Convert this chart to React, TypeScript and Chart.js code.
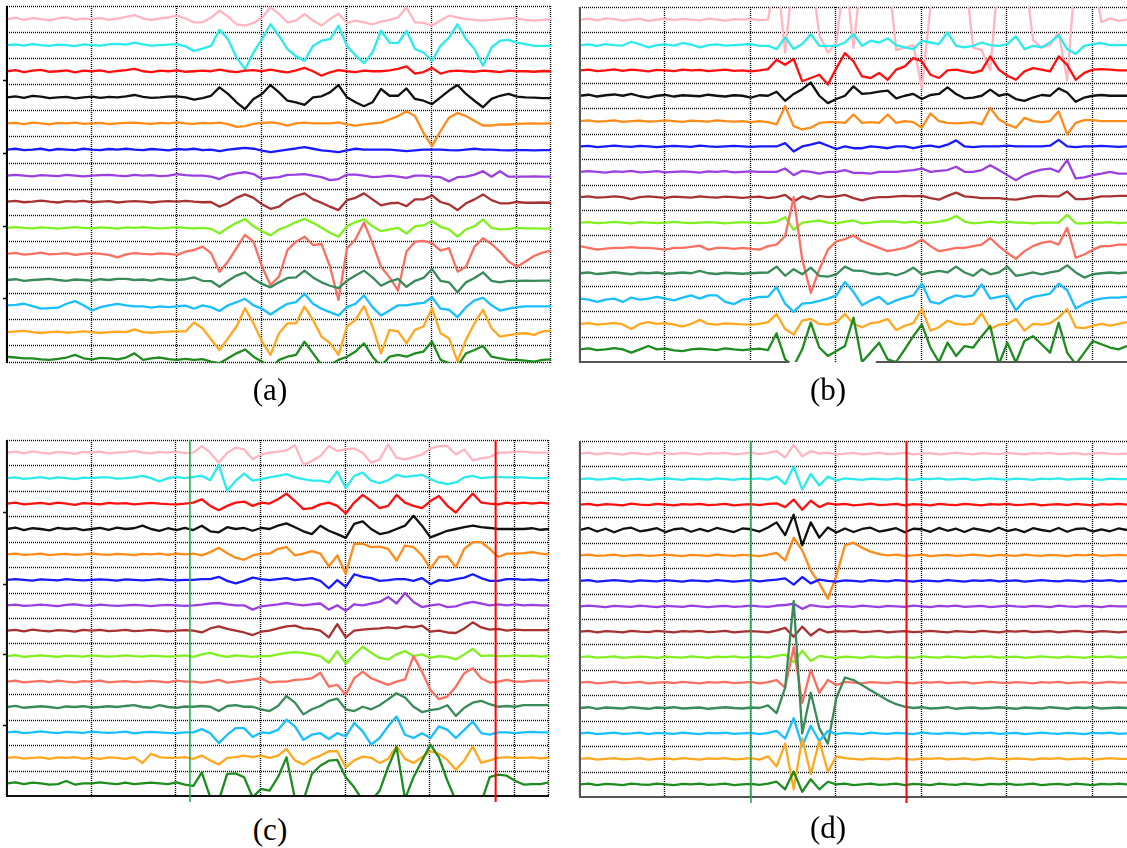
import { useEffect, useRef } from "react";
import { Chart, registerables } from "chart.js";

Chart.register(...registerables);

// Sample positions along the time axis (shared by every panel).
const SAMPLE_X = [
  0, 10, 20, 30, 40, 50, 60, 70, 80, 90,
  100, 110, 120, 130, 140, 150, 160, 170, 180, 190,
  200, 210, 220, 230, 240, 250, 260, 270, 280, 290,
  300, 310, 320, 330, 340, 350, 360, 370, 380, 390,
  400, 410, 420, 430, 440, 450, 460, 470, 480, 490,
  500, 510, 520, 530, 540, 550, 560, 570, 580, 590,
  600, 610, 620, 630, 640,
];

// Horizontal separators between the 14 channel rows (units: 10 per row).
const ROW_LINES = [0, -10, -20, -30, -40, -50, -60, -70, -80, -90, -100, -110, -120, -130];
// Resting level of each channel, centred in its row.
const CHANNEL_BASE = [-5, -15, -25, -35, -45, -55, -65, -75, -85, -95, -105, -115, -125, -135];
const X_GRID_CLOSED = [0, 100, 200, 300, 400, 500, 600, 640];
const X_GRID_OPEN = [0, 100, 200, 300, 400, 500, 600];
const AXIS_TICKS = [-28.4, -56.5, -84.3, -112];

const CHANNEL_COLORS = [
  "#FFB6C1", // pink
  "#2EEBEB", // cyan
  "#FF1010", // red
  "#111111", // black
  "#FF8C1A", // orange
  "#1A1AFF", // blue
  "#9B40E0", // purple
  "#A83232", // brown
  "#80F020", // lime
  "#FA7060", // salmon
  "#3A8A5A", // sea green
  "#19BFFF", // sky blue
  "#FFA820", // light orange
  "#1E8C1E", // green
];

// ---------------- panel (a) ----------------
const A_PINK = [
  0, 0.5, -0.3, 0.4, 0, -0.5, 0.3, 0.6, -0.2, 0.2,
  0, 0.4, -0.3, 0.2, 0.8, 1.5, 0.2, -0.3, 0.3, 0.6,
  1.3, 0.2, -1.3, -1.2, 0.5, 3.2, 1, -2, -2.5, -1.5,
  0.5, 4.5, 2, -1.3, -0.6, 2, -0.6, -2.5, 0, 2,
  -1.5, -0.6, -1.3, -2, -1, -0.3, 0.6, 4.5, -1.3, -1.5,
  -2.5, -0.6, 1.3, 0.6, 0, -0.3, -0.6, -0.3, 0, 0.3,
  0.3, -0.3, -0.6, -0.3, 0,
];
const A_CYAN = [
  0, 0.3, -0.2, 0.4, 0, -0.3, 0.2, 0, -0.4, 0.3,
  0, -0.2, 0.3, 0.5, 0.2, 1, 0.3, -0.2, 0, 0.2,
  0.4, -0.5, -2.2, -1.3, -0.3, 5.9, 2.3, -4.7, -9.2, -2.8,
  2.3, 8, 3.6, -1.5, -4.3, -6, -0.3, 1.7, 2.3, 7.4,
  -0.3, -4, -6.9, -2.8, 5.5, 1, 0.8, 5.5, -1.5, -2.8,
  -6, -0.3, 2.9, 8, 2.3, -1.5, -7.9, -0.9, 1.7, 2,
  1, 0.4, -0.3, -0.3, -0.3,
];
const A_RED = [
  0, 0.4, -0.3, 0.2, 0.5, -0.2, 0, 0.3, -0.4, 0.2,
  0, 0.3, -0.3, 0.1, 0.4, 0.9, 0, -0.3, 0.2, 0,
  0.3, -0.2, 0, 0.2, 0, 0.6, 0, -0.3, 0.2, 0.4,
  0, 0.6, 0, -0.4, 0.3, 1.3, 0, -1.7, -0.4, 0.4,
  0, -0.3, 0.2, 0, 0, 0.3, 0.9, 1.9, -0.9, -0.3,
  1.3, -0.9, 0, 0.2, 0, -0.2, 0.2, 0, -0.3, 0.2,
  0, 0, -0.2, 0.1, 0,
];
const A_BLACK = [
  0, 0.4, -0.2, 0.6, 0.3, -0.3, 0, 0.2, -0.4, 0,
  0.3, -0.2, 0.2, 0, 0.4, 0.9, 0.2, -0.2, 0, 0.3,
  0.4, 0, -0.9, -0.3, 0.6, 3.8, 1.3, -1.9, -4.5, -0.6,
  1.3, 4.7, 1.9, -1.3, -1.9, -2.9, 0, 0.4, 1.9, 4.7,
  0, -1.9, -3.4, -1.9, 3.2, 0.6, 0.6, 3.4, -0.6, -1.3,
  -2.6, 0, 2.6, 4.7, 1.3, -1.3, -3.8, -0.6, 0.6, 1.3,
  0.3, 0, -0.1, -0.3, -0.3,
];
const A_ORANGE = [
  0, 0.2, -0.3, 0.3, 0, -0.4, 0.2, 0, 0.3, -0.2,
  0, 0.2, -0.3, 0, 0.2, 0.3, 0, -0.2, 0.2, 0,
  0.4, 0, -0.2, 0.2, 0, 0.3, -0.3, -1.3, -1, -0.2,
  0.2, 0.4, 0, -0.8, 0, 0.3, 0, 0, 0, 0.4,
  -0.4, -0.8, -0.4, 0, 0.3, 1.5, 2.8, 4.7, 2.8, -3.6,
  -8.7, -2.9, 2.2, 4, 2.8, 0.9, -0.8, -0.8, -0.4, -0.4,
  -0.2, -0.1, 0, -0.1, 0,
];
const A_BLUE = [
  0, 0.3, -0.2, 0, 0.3, -0.3, 0.2, 0, -0.2, 0.3,
  0, -0.2, 0.2, 0, 0.3, 0, -0.2, 0.2, 0, -0.3,
  0.2, 0, 0.3, -0.2, 0, -0.6, 0, 0.3, 0.6, 0.3,
  -0.4, -1, -0.5, 0, 0.4, 0.9, 0.3, -0.3, -0.6, -1,
  -0.3, 0.3, 0, 0, 0, 0, -0.3, -0.6, -0.3, 0,
  0, 0, -0.2, -0.3, 0, 0.3, 0, 0, -0.2, -0.3,
  -0.2, -0.2, -0.3, -0.2, -0.2,
];
const A_PURPLE = [
  0, 0.3, 0, -0.3, 0.2, 0, -0.2, 0.3, 0, -0.3,
  0, 0.2, 0.3, 0, -0.2, 0.3, 0, 0.2, -0.2, 0,
  0.6, 0.2, 0, 0, -0.4, -1.3, 0.2, 0.9, 1.3, 0.6,
  -1.3, -0.9, -0.6, 0.3, 0.4, 0.6, 0, -0.6, -1.7, -1.3,
  0.4, 0.4, 0, -0.6, -0.4, 0, -0.4, -0.9, 0, 0,
  -0.4, -0.6, -2.2, -0.6, -0.4, 0.4, 1.7, -0.4, 1.7, -0.4,
  -0.4, -0.4, -0.3, -0.4, -0.4,
];
const A_BROWN = [
  0, 0.3, -0.2, 0, 0.4, 0, -0.3, 0.2, 0, 0.3,
  -0.2, 0, 0.2, -0.3, 0, 0.2, 0, -0.3, 0, 0.2,
  0, 0.3, 0, -0.2, -0.1, -1.9, -0.6, 1.5, 2.8, 1.5,
  -1, -2.7, -1.9, 0.6, 2.2, 3.2, 0.9, -0.4, -1.9, -3.2,
  0.6, 1.5, 3.2, 0.9, -1.4, -0.6, -0.4, -1.7, 0.9, 0.9,
  2.4, -0.1, -1, -3.2, -0.6, 0.9, 2.8, 0.6, -0.6, -0.6,
  -0.1, -0.4, -0.4, -0.3, -0.4,
];
const A_LIME = [
  0, 0.3, 0, -0.2, 0.2, 0, -0.3, 0, 0.3, 0,
  -0.2, 0.2, 0, -0.3, 0.2, 0, 0.3, 0, -0.2, 0,
  0.3, 0, -0.2, 0, -0.4, -2.2, 0, 1.9, 3.4, 0.6,
  -1.3, -2.9, -0.6, 0.6, 2.2, 3.4, 1.9, 0, -1.9, -3.4,
  0.6, 2.2, 3.2, 0.6, -1.3, -0.6, 0, -2.2, 0.6, 0.9,
  2.6, 0.4, -0.6, -3.4, -0.6, 0.6, 3.2, 0, -0.6, -0.4,
  0, -0.2, -0.2, -0.3, -0.2,
];
const A_SALMON = [
  0, 0.4, -0.3, 0, 0.5, -0.2, 0, 0.3, -0.4, 0,
  0.3, 0, -0.4, -1.3, -0.2, 0.3, 0, -0.2, 0.2, 0,
  -0.4, 0.9, 1.5, 2.8, 0.3, -6.8, -2.9, 2.2, 7.3, 4.7,
  -4.9, -11.9, -8.7, 1.5, 4.7, 6.6, 3.4, 3.8, -4.9, -17.6,
  2.2, 5.6, 12, 4.1, -4.9, -9, -14, 0.9, 4.7, 5,
  4.1, 1.3, 2.2, -6.8, -4.9, 2.8, 6, 3.8, 0.9, -2.9,
  -4.9, -2.9, -0.8, 0.5, 1.3,
];
const A_SEAGREEN = [
  0, 0.3, -0.3, 0, 0.2, 0.4, 0, -0.3, 0.2, 0,
  -0.2, 0.3, 0, 0.4, 0.4, 0, 0.2, -0.2, 0.4, 0,
  0, 0.3, 1, -0.3, -0.4, -2.6, -0.3, 1.7, 2.9, 0.4,
  -1.5, -2.8, -0.9, 0.8, 1, 3.6, 1, -0.9, -2.2, -3.1,
  -0.3, 1.7, 3.6, 1, -2.2, -0.6, 0.4, -2.6, -0.3, 0.8,
  4.2, -0.3, -0.9, -4.7, -0.9, 0.8, 2.9, -0.3, -0.9, -0.3,
  -0.3, -0.2, -0.3, -0.2, -0.2,
];
const A_SKY = [
  0.3, 0.5, 0.9, 0, -1, -0.8, -0.6, 0.9, 1.9, 0.3,
  -1.7, -0.4, 0.3, 0.9, 0.3, -0.1, -0.1, -0.6, -0.1, -0.4,
  -0.1, 0.2, -1, 0.3, -0.4, -1.9, 0.3, 1.5, 2.8, 0.3,
  -1, -3.2, -1, 0.9, 1.5, 4.7, 0.9, -1, -2.3, -3.6,
  -0.4, 0.9, 4.1, -0.4, -3.6, -1.7, 0.3, 0.3, 0.9, 1.2,
  3.4, -1, -1.4, -4.2, -0.4, 2.2, 3.2, 0.3, -1.7, -1,
  -0.4, -0.1, -0.1, -0.1, -0.1,
];
const A_ORANGE2 = [
  0, 0.3, 0.5, 0, -0.3, 0, 0.2, -0.2, 0, 0.3,
  0, -0.3, 0, 0.2, 0, 1.1, 0, -0.2, 0, 0.2,
  0.3, 0.3, 3.7, 1.5, -2.7, -6.8, -2.3, 2.2, 9.2, 3.4,
  -3.6, -8.7, -0.4, 3.4, 3.4, 9.8, 4.7, -1.7, -4.2, -8.7,
  2.2, 4.7, 10, 2.2, -8.1, 0.9, 0.3, -4.2, 0.9, 2.2,
  9.2, -0.4, -2.3, -11.2, -2.9, 3.4, 8.6, 1.5, -1.7, -1.1,
  -0.6, -0.4, -1, 0.3, 0.6,
];
const A_GREEN = [
  0.6, 0.3, 0, 0, -0.4, -0.6, -0.2, 0.3, 1.3, 0,
  -0.4, 0.2, 0, -0.4, 0.3, 1.9, -0.6, 0, 0.3, -0.3,
  -0.6, -0.2, -0.6, -0.3, -1.3, -1.9, 0, 1.9, 3.4, 0.6,
  -1.3, -4, -0.6, 0.6, 1.3, 6.4, 1.9, -2.5, -2.5, -0.6,
  0.6, 2.6, 5.7, 0.6, -3, 0.6, 1.3, 0.6, 1.9, 2.6,
  6.4, -0.6, -1.9, -3, 1.9, 3.2, 4.7, 0.6, 0, -0.6,
  -0.6, -0.9, -1.3, -0.6, -0.4,
];

// ---------------- panel (b) ----------------
const B_PINK = [
  0, 0.4, -0.3, 0.5, 0.2, -0.4, 0, 0.3, -0.5, 0,
  0.4, -0.2, 0.3, 0, -0.3, 0.4, 0, -0.4, 0.2, 0,
  0.3, -0.2, 0, 20, -13, 20, 18, 20, -6, -13,
  -9, 20, -11, 20, 20, 20, 20, -12, -11, -10,
  -27, 5, 20, 20, 20, 20, -11, -12, -20, 20,
  20, 20, 20, -8, -11, -10, -5, -24, 20, 20,
  20, -1, 0.5, -0.5, 0,
];
const B_CYAN = [
  0, 0.3, -0.3, 0.4, 0, -0.2, 1.3, 0.3, -0.9, 0,
  0.3, -0.2, 0.8, 0.2, -0.9, 0, 0.3, -0.2, 0, 0.2,
  0.4, -0.3, -0.3, -1.6, 3, -1.6, 0.4, 4.3, -0.3, -0.3,
  -0.3, 1, 4.3, -0.3, 1.7, 1, 2.6, 0, -0.9, -1.6,
  1.7, 1, 0.4, 5, -0.3, -0.9, -0.3, 1, 0, -0.3,
  0.4, 3.4, -1.6, -0.3, -0.9, 1, 3.9, -1.6, -3.5, -0.3,
  0.4, 0.8, 0, 0.1, 0,
];
const B_RED = [
  0, 0.3, -0.3, 0, 0.4, -0.2, 0.3, 0, -0.4, 0.2,
  0, -0.3, 0.3, 0, 0.2, -0.3, 0, 0.3, -0.2, 0,
  -0.4, 0, 0.5, 4.2, 2.2, 4.5, -4.3, -3, -1.7, -5.6,
  0.9, 6.8, 3.5, -2.4, -3, -1, -3.7, 0.3, 1.6, 4.9,
  3.5, -1.7, -3, 0, 0.3, -0.4, -1, 0, 5.5, 0.3,
  -2.1, -3.7, -0.4, 0.9, 0.3, -0.4, 5.5, 2.2, -3.7, -1,
  0.3, 0.5, 0.3, 0, 0,
];
const B_BLACK = [
  0, 0.4, -0.3, 0.2, 0.5, 0, 0.7, -0.2, -0.7, 0,
  0.3, -0.3, 0.2, 0, -0.2, 0.4, 0, -0.3, 0.2, 0,
  -0.7, 0.2, 0, 1.6, -2, 0.7, 2.6, 5.2, 0, -2.9,
  -1.3, 0, 3.7, 0.7, 1, 1.6, 2, -1, 0, 0.7,
  -1.3, 0.3, 0.7, 3.3, 0.7, -1, -0.7, 0, 2.4, 0,
  0.7, -1.3, -2, -0.7, 0.3, 0, 2.9, 1.3, -2.4, -0.7,
  0, 0.3, 0, 0, 0,
];
const B_ORANGE = [
  0, 0.3, -0.2, 0, 0.3, -0.3, 0, 0.2, -0.2, 0,
  0.3, 0, -0.3, 0.2, 0, -0.2, 0.3, 0, -0.2, 0,
  -0.4, 0, -0.4, -1.3, 5.9, -2, -3.3, -2.6, -0.7, -0.4,
  -0.4, -0.7, 2.6, -0.7, -0.4, -0.7, 2.6, -0.7, 0, -0.4,
  -2.6, 3, 0, -0.7, -0.9, -0.7, -0.4, -1.3, 5.2, 0.7,
  -1.3, -2.6, 1.3, 0, -0.4, 0, 3.9, -5.2, -0.7, 0.4,
  0.4, 0, 0, 0, 0,
];
const B_BLUE = [
  0, 0.2, -0.3, 0, 0.3, 0, -0.2, 0.2, 0, -0.3,
  0, 0.2, 0, -0.2, 0.3, 0, -0.2, 0, 0.2, 0,
  -0.2, 0, 0, 0, 1.3, -2, 0, 0.7, 1.6, 0.3,
  -1, 0, -0.7, -0.7, 0, -0.3, -0.7, 0, 0, -0.7,
  0, 0.3, -0.3, 0.7, 2.4, 0, -0.3, 0, 0, 0,
  0.3, 0, 0, 0, 0, 0.3, 2.6, 0, -0.3, 0,
  0, 0.2, 0, -0.2, 0,
];
const B_PURPLE = [
  0, 0.3, 0, -0.3, 0.2, 0, 0.4, -0.2, 0, 0.3,
  -0.2, 0, 0.2, 0, -0.3, 0.2, 0, 0.3, -0.2, 0,
  0.2, 0, 0, 0, 1.3, -1.3, 0.4, 0, -0.7, 0,
  0, 0.7, -0.4, -0.4, -0.7, 0, 0, 0, 0.4, 0.7,
  1.3, 0, 0.4, 0.7, 2, 0, 0, 0.7, 2.6, 0.7,
  -1.3, -3.3, -1.3, 0, 0.9, 1.3, 0, 4.6, -2.6, -2.2,
  -1.3, -0.7, 0, -0.7, -0.7,
];
const B_BROWN = [
  0, 0.3, -0.2, 0, 0.3, 0, -0.8, 0, 0.3, 0,
  -0.3, 0.2, 0, -0.2, 0.3, 0, -0.2, 0.2, 0, -0.3,
  0, 0.2, -0.4, 0, 0.9, -1.7, 0.3, -0.8, 0.5, 0,
  0.3, 0.9, -0.4, -1.3, -0.4, 0, 0, 0.3, 0.5, 0.3,
  0.5, -0.4, -1, 0.5, 1.8, 0.3, 0, -0.4, -0.4, -0.4,
  -0.8, -1, -0.4, 0.3, 0.5, 0.3, 0.3, 2.2, -0.8, -0.8,
  -0.4, 0.3, 0.3, 0.5, 0.5,
];
const B_LIME = [
  0, 0.2, -0.2, 0, 0.3, 0, -0.3, 0.2, 0, -0.2,
  0, 0.3, 0, -0.2, 0, 0.2, 0, -0.3, 0, 0.2,
  0, -0.2, 0, 0.4, 2.1, -2.9, 0, 0.4, 0.8, 0,
  -0.3, 0.4, 0.8, -0.3, 0, 0.4, 0.4, 0.4, 0, 0.4,
  -0.3, 0, 0.4, 1, 2.6, 0.4, -0.3, 0, 0.4, 0,
  0.4, 0, 0, -0.3, 0, 0, 0, 3, -0.3, -0.3,
  0, 0, 0.2, -0.2, 0,
];
const B_SALMON = [
  0.7, 0, -0.7, -0.3, 0, 0, 0.3, 0, 0, -0.3,
  -0.7, 0, 0, 0.4, 0.9, -0.7, 0, 0, -0.4, 0,
  -0.4, -0.7, 0.7, 1.3, 4.6, 20, -4.6, -17.7, -8.5, -0.7,
  2.6, 3.5, 4.9, 2.6, 1.3, 0, -1.3, -0.7, 0, 1.3,
  3.3, 0.7, -1.3, -0.7, 0, 0, 0.7, 1.3, 3.9, 0.7,
  -2, -4.3, -1.3, 0.7, 2, 2.6, 1.3, 7.9, -3.9, -2.6,
  -0.7, 0.7, 0.7, 1.3, 1.3,
];
const B_SEAGREEN = [
  0, 0.3, -0.3, 0, 0.4, 0, -0.4, 0.2, 0, 0.3,
  -0.2, 0, 0.3, 0, 0.9, 0, -0.3, 0.2, 0, -0.2,
  0, 0.2, 0.3, 2.6, -1, 1.6, -0.4, 2.2, -1, -1.3,
  -0.4, 2.6, 1, 0.9, 0, -0.4, 0, -0.8, 0.3, 2.2,
  -0.4, 0.3, 0.9, 0.3, 2.6, 0.3, -1, 1.6, -0.4, 0.3,
  2.6, -1, -0.4, 0.3, -0.4, 0.3, 0.9, 3.1, 0.3, -1.7,
  -0.4, 0, 0.3, 0, 0.3,
];
const B_SKY = [
  0, -0.4, -1.3, -0.4, 0, -1.3, 0.4, -0.4, 0, 0.7,
  0, -0.7, 0.4, 1.3, 0, 1.3, 1.3, -1.3, -2.2, -0.4,
  0, 0.7, 0.7, 4.6, -2, -5.2, -2, -1.7, -0.9, 0,
  1.3, 6.6, 2.6, -2.6, -0.7, 0.7, -2.2, -0.7, 0.4, 1.3,
  5.9, -1.3, -2, 0, 1.3, 0.7, 1.3, 5.6, 0, 0.7,
  1.3, -4.6, -0.7, 0.7, 1.3, 2, 5.9, 3.3, -3.9, -2,
  -0.7, 0, 0.4, 0.4, 0.7,
];
const B_ORANGE2 = [
  0, 0.3, -0.3, 0, 0.4, -0.2, -2, 0, 0.7, 0,
  0.3, -0.3, -1, 0, 1.6, 0, -0.3, 0.2, 0, -0.2,
  -0.3, 0, 0.7, 3.9, -2, -4.2, 1.3, 2, 0, -0.3,
  0.7, 3.9, 0, -1.3, 0.3, 0.7, 2, -2.4, -0.7, 0.3,
  5.9, -2.6, -1.3, 1.3, 0, -0.3, 0, 4.2, -2, -0.3,
  0, 2, -2.6, 0, -0.3, 0.3, 2.6, 5.9, -1.3, -1.6,
  -0.7, 0, -0.7, 0, 0.7,
];
const B_GREEN = [
  0, 0.4, -0.3, 0, 0.5, 0, -1.3, 0, 1.3, 0,
  0.3, -0.4, -0.7, 0, 0.3, 0, -0.3, 0.4, 0, -0.3,
  0, 0.3, -0.3, 6.3, -4, -6.6, 0, 10.5, 0.7, -2.6,
  -0.7, 1.3, 12.5, -5, -1.3, 2.6, -4, -5, 0, 5.2,
  9.8, 0.7, -5, 2.6, -2.6, 1.3, 0.7, 5.2, 9.2, -5.9,
  2.6, -5.2, 3.3, 5.2, 2, -1.3, 10.5, -1.3, -5.9, -1.3,
  3.3, 2, 0.7, 0, 1.3,
];

// ---------------- panel (c) ----------------
const C_PINK = [
  0, 0.4, -0.3, 0.5, 0, -0.4, 0.3, 0, -0.5, 0.3,
  0, 0.4, -0.3, 0, 0.2, 0.7, 0, -0.3, 0.3, 0,
  0.4, -0.2, 0, 2.6, 0, -3.9, 0, 2, 1.3, -2.6,
  -0.7, 0, 0.4, 0.9, 3, -4.7, -3.3, -1.3, 2.6, 0.7,
  1.3, 1.7, 0, -3.9, -2.6, 3.3, -2, -2.6, -1.7, -0.7,
  1.7, 2.6, 2.6, -0.7, 1.3, -3, -2.2, -1.7, 0, 0,
  0.4, 0.4, 0, 0, 0,
];
const C_CYAN = [
  0, 0.3, -0.3, 0, 0.4, -0.2, 0.3, 0, -0.4, 0.2,
  0, 0.3, 0.3, -0.2, 0, 0.3, 0.9, 0, -1.3, 0,
  0.5, 0, 0.5, 0.9, -0.8, 5.2, -5, -1, 1.8, -1,
  -0.4, 0.3, 0.9, 1.6, 0.3, -0.4, -1, -1, -1.7, 2.6,
  -3.9, 0.9, 2.2, -1, -2, -0.8, 1.3, 0.5, 0.9, 1.3,
  -0.4, -1.7, -2.4, -1.7, 0.3, 0.9, 0, 0.3, 0.5, 0.3,
  0.3, 0.3, 0, 0, 0,
];
const C_RED = [
  0, 0.4, -0.3, 0, 0.3, -0.2, 0.4, 0, -0.5, 0.2,
  0, -0.3, 0.3, 0, 0.2, -0.3, 0, 0.3, 0, -0.2,
  -0.3, 0, 0.4, 1.7, -0.9, -2.6, -0.9, 0.4, 0.8, -0.9,
  0.4, 0, 1.7, 3.9, 1, -2.2, -1.8, -0.3, 0.4, -0.9,
  -3.9, 0.4, 3.4, 1, -1.8, -0.9, 3.4, 0.4, -0.9, -1.8,
  1, 3, -0.9, -3.5, 0.4, 3.9, 0.4, 0, -0.3, 0.4,
  0, 0.4, 0, 0.4, 0,
];
const C_BLACK = [
  0, 0.5, -0.4, 0.3, 0, -0.5, 0.4, 0, 0.3, -0.4,
  0, 0.4, -0.3, 0.5, 0, 0.3, 1.3, 0, -0.7, 0.3,
  -0.4, 0.4, -0.4, 1.3, -0.9, -1.3, 0.7, 0, 0.4, -0.7,
  0.4, 0, 1.3, 2.2, 0.7, -0.9, -2, 1.3, -0.7, -2,
  -3.5, 2, 3, 0, -2, -1.3, 0, 1.3, 5.2, 1.3,
  -3.3, -2, -0.7, 0, 0.7, 1.3, 0.7, 0.4, 0, 0,
  0, 0, 0.3, -0.3, 0,
];
const C_ORANGE = [
  0, 0.3, -0.2, 0, 0.3, -0.3, 0, 0.2, -0.2, 0,
  0.3, 0, -0.2, 0.2, 0, -0.3, 0.2, 0, 0.3, -0.2,
  0.3, 0, 0.3, -0.4, 0.9, 2.6, 0.5, -1.3, -2.1, -0.4,
  0.3, 0.3, 2.2, 2.9, -0.4, 0.3, 1.3, 0.3, -4.7, -0.4,
  -7.6, 4.2, 4.2, 2.9, 3.1, 2.2, -2.4, 3.5, 2.9, -0.4,
  -5.6, -1, -0.8, -5, 2.2, 4.8, 4.8, 2.2, -1, 0.3,
  0.3, 0.5, 0.9, 0.3, 0,
];
const C_BLUE = [
  0, 0.3, 0, -0.3, 0.2, 0, -0.2, 0.3, 0, -0.2,
  0, 0.2, 0, -0.3, 0.2, 0, -0.2, 0, 0.3, 0,
  -0.2, 0, 0, 0.3, 0.3, 1.2, -0.4, -1.4, -0.4, 0.9,
  0.3, -0.1, 0.3, 0.7, -0.1, 0.3, 0.7, -0.4, -3.3, -0.1,
  -2.8, 2.2, 1.2, 0.7, -0.4, -0.1, 0.3, 0.3, -0.4, 0.7,
  -1.7, -0.1, -0.4, 0.3, 0.9, 2.2, 0.7, -0.4, -0.4, 0.3,
  0.3, 0, 0.2, -0.2, 0,
];
const C_PURPLE = [
  0, 0.3, -0.2, 0, 0.3, 0, -0.3, 0.2, 0.4, 0,
  -0.2, 0.3, 0, -0.2, 0, 0.2, 0, -0.3, 0, 0.2,
  0, -0.2, 0, 0.3, 0.7, 0.9, 0.4, 0, 0, -1.7,
  -0.4, 0, 0.4, 0.9, 0.4, 0, 0.4, 0.7, -1.7, 0,
  -2.2, 0.4, 0, 0.7, 1.3, 3.3, 0.7, 4.8, 1.3, -0.7,
  0, 0.4, -0.7, -0.4, 0.7, 1.3, 0.7, 0, 0.4, 0,
  0.4, 0, 0.2, 0, 0,
];
const C_BROWN = [
  0, 0.3, -0.3, 0.4, 0, -0.3, 0.2, 0, -0.4, 0.3,
  0, 0.3, -0.2, 0, 0.3, -0.2, 0, 0.3, 0, -0.3,
  0, 0.2, 0, -0.7, 0.9, 1.7, 0.7, 0, -0.7, -1.7,
  -0.4, 0, 0.9, 1.7, 2, 0.9, 0.7, 0, -2.6, 2.6,
  -2.6, 0, 0.4, 0.7, 0.9, 1.3, 0.9, 1.7, 1.3, 2,
  -0.4, 0, -0.7, -0.9, 0.9, 3.3, 1.3, 0.4, 0.7, 0,
  0.4, 0.2, 0.2, 0.2, 0.2,
];
const C_LIME = [
  0, 0.4, -0.3, 0, 0.3, 0, -0.3, 0.2, 0, -0.2,
  0.3, 0, -0.2, 0, 0.3, 0, -0.2, 0.2, 0, -0.2,
  0, 0.3, -0.3, 0.7, 1.3, 0.3, -0.3, 0.3, 0, -0.3,
  0, 0, 0.7, 1.3, 1.6, 1.3, 0.7, 0, -2.6, 2,
  -2.9, 0.7, 3.7, 1.3, -0.7, -1.3, 0.7, 2, 0, 0.7,
  -0.7, 0, -0.3, -1.3, 0.7, 2.9, 0, 0.3, 0, 0,
  0.3, 0, 0.2, -0.2, 0,
];
const C_SALMON = [
  0, 0.4, -0.3, 0, 0.3, -0.2, 0.4, 0, -0.3, 0.2,
  0, 0.4, -0.3, 0, 0.2, -0.2, 0, 0.3, 0, -0.3,
  0.4, 0, 0, -0.4, 0, 0.7, -0.4, 0, 0.4, 0.9,
  1.3, -0.4, 0, 0, 0.7, 0.9, 1.3, 3.5, -2, -1.3,
  -5.2, 1.3, 3.9, 1.3, 0, -1.3, 0, 0.9, 10, 3.9,
  -3.3, -6.9, -5.9, -2, 3.3, 5.2, 1.3, -0.4, 0, 0.7,
  0, 0, 0.4, 0.4, 0.4,
];
const C_SEAGREEN = [
  0, 0.4, -0.3, 0, 0.3, 0, -0.4, 0.2, 0, 0.3,
  -0.2, 0, 0.3, 0, 0.4, 0.7, 0, -0.3, 0.7, 0,
  -0.3, 0.2, 0.1, 0.4, 0.1, -1.6, 0.4, 0.7, 0.1, 0.1,
  -0.9, -1.6, 0.4, 4.3, 1.7, -2.9, -0.9, 0.4, 2.4, 3.3,
  -0.9, -1.6, 0.1, -0.9, 0.7, 3, 5.4, 3.7, 0.1, -2,
  -1.2, -0.7, 0.7, -3.5, -0.3, 1.7, 2.4, 1.1, 0.1, 0.4,
  0.1, 0.7, 0.7, 0.7, 0.7,
];
const C_SKY = [
  0, 0.3, -0.3, 0, 0.4, 0, -0.3, 0.2, 0, -0.2,
  0.3, 0, -0.2, 0, 0.3, -0.4, 0, 0.2, 0, -0.2,
  -0.3, 0, 0, 1.3, -0.3, -4.2, -0.9, 1.7, 1.7, -1.8,
  0, -0.3, 1, 5, 2.4, -2.9, -0.9, -0.3, -2.6, -0.3,
  -1.6, 3.7, 0.4, -4.8, -2.2, 2.4, 6.3, -0.9, -2.2, -0.3,
  -2.2, 2.4, 1, -2.2, 1, 4.3, -0.3, -0.9, 0, 0,
  -0.3, 0, 0.2, 0, 0,
];
const C_ORANGE2 = [
  0, 0.3, -0.3, 0, 0.2, -0.4, 0.2, 0, 0.3, -0.3,
  0, -0.4, 0.2, 0, -0.4, 0.3, -2, 1.6, 0.3, 0,
  0, 0.3, -0.4, 0.9, -1, -2.6, 0, 0.3, 0.9, 0.3,
  0.9, 0, 0.9, 3.5, -1, -2.6, -0.4, 0.9, 2.6, 2.6,
  -3.7, -1, 0.5, 0, -2, -0.4, 4.5, -0.4, -2, 0.3,
  2.6, 1.6, -0.8, -4.7, -1, 4.5, -2, -1, 0, 0.3,
  0, 0, 0.2, -0.2, 0,
];
const C_GREEN = [
  0, 0.4, -0.3, 0.3, 0, -0.5, -0.3, 0.9, -0.5, 0,
  0, 0.4, 0, -0.3, 0.3, -0.3, 0, 0.3, 0, -0.3,
  0.4, -0.5, -1, 4.3, -5.5, -6.8, 3.7, 3.9, 2.4, -5.5,
  -2.2, -2.9, 2.4, 10.2, -6, -6.8, 3.7, 6.9, 8.9, 9.2,
  2.4, -1.6, -6.8, -6.8, -2.9, 6.3, 14.2, -6.2, 2.4, 8.9,
  15.2, 10.2, 1, -6.8, -7.5, -7.5, -7.5, 2.4, 3.4, 3,
  1, -0.5, -0.3, -0.3, 0.4,
];

// ---------------- panel (d) ----------------
const D_PINK = [
  0, 0.4, -0.3, 0.3, 0, -0.4, 0.3, 0, -0.3, 0.4,
  0, -0.2, 0.3, 0, -0.4, 0.2, 0, 0.3, -0.3, 0,
  0.4, -0.2, 0.3, 1, -1.5, 3.5, -1, 1, 0, 0.4,
  -0.3, 0, 0.3, -0.3, 0, 0.4, -0.2, 0, 0.3, -0.3,
  0, 0.2, -0.3, 0, 0.4, 0, -0.3, 0.2, 0, -0.2,
  0.3, 0, -0.3, 0.2, 0, 0.3, -0.2, 0, 0.2, -0.3,
  0, 0.3, 0, -0.2, 0,
];
const D_CYAN = [
  0, 0.3, -0.2, 0, 0.4, -0.3, 0, 0.2, -0.3, 0,
  0.3, 0, -0.3, 0.2, 0, -0.2, 0.3, 0, -0.3, 0.2,
  0, 0.3, -0.2, 1, -2, 5, -4, 2, -2.5, 1,
  -0.5, 0.3, 0, -0.3, 0.2, 0, -0.2, 0.3, 0, -0.3,
  0.2, 0, 0.3, -0.2, 0, 0.2, -0.3, 0, 0.3, 0,
  -0.2, 0.2, 0, -0.3, 0.2, 0, 0.3, -0.2, 0, 0.2,
  0, -0.3, 0.2, 0, 0,
];
const D_RED = [
  0, 0.3, -0.3, 0.2, 0, -0.3, 0.4, 0, -0.2, 0.3,
  0, -0.3, 0.2, 0, 0.3, -0.2, 0, 0.3, -0.3, 0,
  0.2, -0.2, 0.3, 0.5, -1, 2, -2, 1.5, -1, 0.5,
  0, 0.3, -0.3, 0, 0.4, -0.2, 0, 0.3, -0.3, 0.2,
  0, -0.3, 0.3, 0, -0.2, 0.3, 0, -0.3, 0.2, 0,
  0.3, -0.2, 0, 0.3, -0.3, 0, 0.2, -0.2, 0.3, 0,
  -0.3, 0.2, 0, 0.3, 0,
];
const D_BLACK = [
  0, 0.8, -0.6, 0.5, -0.9, 0.4, 0.9, -0.5, 0, 0.7,
  -0.8, 0.3, 0.6, -0.7, 0.4, -0.5, 0.8, 0, -0.8, 0.6,
  0.3, -0.6, 1, 3, -2, 6, -6, 3, -3, 1,
  -1, 0.6, -0.8, 0.4, 0.9, -0.6, 0, 0.7, -0.9, 0.5,
  0.3, -0.7, 0.8, -0.3, 0.5, -0.8, 0.6, 0, -0.6, 0.9,
  -0.4, 0.3, -0.8, 0.7, 0, -0.5, 0.8, -0.7, 0.4, 0.6,
  -0.6, 0.2, -0.5, 0.6, 0,
];
const D_ORANGE = [
  0, 0.3, -0.2, 0, 0.3, -0.3, 0, 0.2, -0.2, 0,
  0.3, 0, -0.3, 0.2, 0, -0.2, 0.3, 0, -0.2, 0.2,
  0, -0.3, 0.3, 1, -2, 7, 2, -6, -11, -17,
  -8, 4, 5, 3, 1.5, 0.5, 0, 0.3, -0.2, 0,
  0.3, -0.3, 0, 0.2, -0.2, 0, 0.3, 0, -0.3, 0.2,
  0, -0.2, 0.3, 0, -0.2, 0.2, 0, -0.3, 0.2, 0,
  0.3, -0.2, 0, 0.2, 0,
];
const D_BLUE = [
  0, 0.3, -0.3, 0, 0.3, 0, -0.3, 0.2, 0, -0.2,
  0.3, 0, -0.3, 0.2, 0, -0.2, 0.3, 0, -0.3, 0,
  0.3, -0.2, 0.2, 0.5, 1, -1.5, 1.5, -1, 0.5, 0,
  -0.3, 0.2, 0, -0.3, 0.3, 0, -0.2, 0.3, 0, -0.3,
  0.2, 0, -0.2, 0.3, 0, -0.3, 0.2, 0, 0.3, -0.2,
  0, 0.2, -0.3, 0, 0.3, 0, -0.2, 0.2, 0, -0.3,
  0.2, 0, 0.3, -0.2, 0,
];
const D_PURPLE = [
  0, 0.3, 0, -0.3, 0.2, 0, -0.2, 0.3, 0, -0.3,
  0.2, 0, -0.2, 0.3, 0, -0.3, 0, 0.2, -0.2, 0,
  0.3, 0, -0.2, 0.3, 0.5, 1, -1, 0.5, 0, -0.3,
  0.2, 0, -0.2, 0.3, 0, -0.3, 0.2, 0, -0.2, 0.3,
  0, -0.3, 0.2, 0, 0.3, -0.2, 0, 0.2, -0.3, 0,
  0.3, 0, -0.2, 0.2, 0, -0.3, 0.3, 0, -0.2, 0.2,
  0, -0.3, 0.2, 0, 0,
];
const D_BROWN = [
  0, 0.3, -0.3, 0.2, 0, -0.3, 0.3, 0, -0.2, 0.3,
  0, -0.3, 0.2, 0, 0.3, -0.2, 0, 0.3, -0.3, 0,
  0.2, 0, -0.3, 0.5, 1.5, -2, 2, -1.5, 1, -0.3,
  0.2, 0, 0.3, -0.2, 0, 0.3, -0.3, 0, 0.2, -0.2,
  0, 0.3, 0, -0.3, 0.2, 0, -0.2, 0.3, 0, -0.3,
  0.2, 0, 0.3, -0.2, 0, 0.2, -0.3, 0, 0.3, 0,
  -0.2, 0.2, 0, -0.3, 0,
];
const D_LIME = [
  0, 0.3, -0.2, 0, 0.3, -0.3, 0, 0.2, 0, -0.3,
  0.2, 0, -0.2, 0.3, 0, -0.3, 0.2, 0, 0.3, -0.2,
  0, 0.2, -0.2, 0.5, 1, -2, 2.5, -1.5, 0.5, 0,
  -0.3, 0.2, 0, -0.3, 0.3, 0, -0.2, 0.2, 0, -0.3,
  0.3, 0, -0.2, 0.2, 0, -0.3, 0.2, 0, 0.3, -0.2,
  0, 0.2, -0.3, 0, 0.3, 0, -0.2, 0.2, 0, -0.3,
  0.2, 0, 0.3, -0.2, 0,
];
const D_SALMON = [
  0, 0.3, -0.3, 0, 0.4, -0.2, 0, 0.3, -0.3, 0,
  0.2, -0.2, 0.3, 0, -0.3, 0.2, 0, 0.3, -0.2, 0,
  0.3, -0.3, 0.2, 1, -2, 14, -8, 5, -4, 1,
  -1, 0.3, 0, -0.3, 0.2, 0, -0.2, 0.3, 0, -0.3,
  0.2, 0, 0.3, -0.2, 0, 0.2, -0.3, 0, 0.3, 0,
  -0.2, 0.2, 0, -0.3, 0.2, 0, 0.3, -0.2, 0, 0.2,
  -0.3, 0, 0.3, 0, 0,
];
const D_SEAGREEN = [
  0, 0.3, -0.3, 0.2, 0, -0.2, 0.3, 0, -0.3, 0.2,
  0, 0.3, -0.2, 0, 0.2, -0.3, 0, 0.3, 0, -0.2,
  0.2, 0, 1, -2, 8, 42, -10, 6, -8, -14,
  4, 12, 11, 9, 7, 5, 3, 1.5, 0.5, 0,
  0.3, -0.2, 0, 0.3, -0.3, 0, 0.2, -0.2, 0, 0.3,
  0, -0.3, 0.2, 0, -0.2, 0.3, 0, -0.3, 0.2, 0,
  0.3, -0.2, 0, 0.2, 0,
];
const D_SKY = [
  0, 0.3, -0.3, 0, 0.3, -0.2, 0, 0.3, -0.3, 0.2,
  0, -0.2, 0.3, 0, -0.3, 0.2, 0, 0.3, -0.2, 0,
  0.2, -0.3, 0.2, 1, -2, 6, -5, 3, -3, 1,
  -0.3, 0.2, 0, -0.3, 0.3, 0, -0.2, 0.2, 0, -0.3,
  0.3, 0, -0.2, 0.2, 0, -0.3, 0.2, 0, 0.3, -0.2,
  0, 0.2, -0.3, 0, 0.3, 0, -0.2, 0.2, 0, -0.3,
  0.2, 0, 0.3, -0.2, 0,
];
const D_ORANGE2 = [
  0, 0.3, -0.3, 0, 0.3, -0.2, 0, 0.3, -0.3, 0,
  0.2, -0.2, 0.3, 0, -0.3, 0.2, 0, 0.3, -0.2, 0,
  0.3, -0.3, 1, -3, 6, -12, 8, -6, 7, -5,
  1, 0.3, 0, -0.3, 0.2, 0, -0.2, 0.3, 0, -0.3,
  0.2, 0, 0.3, -0.2, 0, 0.2, -0.3, 0, 0.3, 0,
  -0.2, 0.2, 0, -0.3, 0.2, 0, 0.3, -0.2, 0, 0.2,
  -0.3, 0, 0.3, 0, 0,
];
const D_GREEN = [
  0, 0.3, -0.3, 0.2, 0, -0.3, 0.3, 0, -0.2, 0.3,
  0, -0.3, 0.2, 0, 0.3, -0.2, 0, 0.3, -0.3, 0,
  0.2, -0.2, 0.3, 1, -2, 5, -3, 2, -2, 1,
  0, 0.3, -0.3, 0, 0.3, -0.2, 0, 0.3, -0.3, 0.2,
  0, -0.3, 0.3, 0, -0.2, 0.3, 0, -0.3, 0.2, 0,
  0.3, -0.2, 0, 0.3, -0.3, 0, 0.2, -0.2, 0.3, 0,
  -0.3, 0.2, 0, 0.3, 0,
];

type Marker = { x: number; color: string; width: number };
type PanelSpec = {
  name: string;
  plot: { left: number; top: number; right: number; bottom: number };
  yMin: number;
  xGrid: number[];
  series: number[][];
  axisColor: string;
  bottomDotted: boolean;
  bottomSegments: [number, number][];
  axisTicks: number[];
  markers: Marker[];
  label: string;
  labelX: number;
  labelY: number;
};

const PAGE_W = 1127;

const PANELS: PanelSpec[] = [
  {
    name: "a",
    plot: { left: 7, top: 6, right: 551, bottom: 363 },
    yMin: -136.8,
    xGrid: X_GRID_CLOSED,
    series: [A_PINK, A_CYAN, A_RED, A_BLACK, A_ORANGE, A_BLUE, A_PURPLE, A_BROWN, A_LIME, A_SALMON, A_SEAGREEN, A_SKY, A_ORANGE2, A_GREEN],
    axisColor: "#000000",
    bottomDotted: true,
    bottomSegments: [[0, 640]],
    axisTicks: AXIS_TICKS,
    markers: [],
    label: "(a)",
    labelX: 270,
    labelY: 390,
  },
  {
    name: "b",
    plot: { left: 580, top: 7, right: 1127, bottom: 362 },
    yMin: -140,
    xGrid: X_GRID_OPEN,
    series: [B_PINK, B_CYAN, B_RED, B_BLACK, B_ORANGE, B_BLUE, B_PURPLE, B_BROWN, B_LIME, B_SALMON, B_SEAGREEN, B_SKY, B_ORANGE2, B_GREEN],
    axisColor: "#555555",
    bottomDotted: false,
    bottomSegments: [[0, 245], [346, 640]],
    axisTicks: [],
    markers: [],
    label: "(b)",
    labelX: 828,
    labelY: 390,
  },
  {
    name: "c",
    plot: { left: 7, top: 440, right: 549, bottom: 796 },
    yMin: -140,
    xGrid: X_GRID_CLOSED,
    series: [C_PINK, C_CYAN, C_RED, C_BLACK, C_ORANGE, C_BLUE, C_PURPLE, C_BROWN, C_LIME, C_SALMON, C_SEAGREEN, C_SKY, C_ORANGE2, C_GREEN],
    axisColor: "#111111",
    bottomDotted: false,
    bottomSegments: [[0, 640]],
    axisTicks: AXIS_TICKS,
    markers: [
      { x: 216, color: "#22B14C", width: 1.6 },
      { x: 577, color: "#FF0000", width: 2 },
    ],
    label: "(c)",
    labelX: 270,
    labelY: 830,
  },
  {
    name: "d",
    plot: { left: 580, top: 441, right: 1127, bottom: 797 },
    yMin: -140,
    xGrid: X_GRID_OPEN,
    series: [D_PINK, D_CYAN, D_RED, D_BLACK, D_ORANGE, D_BLUE, D_PURPLE, D_BROWN, D_LIME, D_SALMON, D_SEAGREEN, D_SKY, D_ORANGE2, D_GREEN],
    axisColor: "#555555",
    bottomDotted: false,
    bottomSegments: [[0, 640]],
    axisTicks: [],
    markers: [
      { x: 200, color: "#22B14C", width: 1.6 },
      { x: 382, color: "#FF0000", width: 2 },
    ],
    label: "(d)",
    labelX: 828,
    labelY: 828,
  },
];

const PAD_L = 8;
const PAD_T = 8;
const PAD_B = 12;

function TracePanel({ spec }: { spec: PanelSpec }) {
  const ref = useRef<HTMLCanvasElement | null>(null);
  const padR = spec.plot.right >= PAGE_W ? 0 : 8;
  const width = spec.plot.right - spec.plot.left + PAD_L + padR;
  const height = spec.plot.bottom - spec.plot.top + PAD_T + PAD_B;

  useEffect(() => {
    const canvas = ref.current;
    if (!canvas) return;

    const datasets = spec.series.map((vals, i) => ({
      data: vals.map((v, k) => ({ x: SAMPLE_X[k], y: CHANNEL_BASE[i] + v })),
      borderColor: CHANNEL_COLORS[i],
      backgroundColor: CHANNEL_COLORS[i],
      borderWidth: 2.3,
      pointRadius: 0,
      tension: 0,
      fill: false,
      borderJoinStyle: "round" as const,
      order: -i,
    }));

    const line = (ctx: CanvasRenderingContext2D, x1: number, y1: number, x2: number, y2: number) => {
      ctx.beginPath();
      ctx.moveTo(x1, y1);
      ctx.lineTo(x2, y2);
      ctx.stroke();
    };

    const frame = {
      id: "frame",
      beforeDatasetsDraw(chart: any) {
        const { ctx, chartArea: a, scales } = chart;
        ctx.save();
        ctx.strokeStyle = "#000";
        ctx.lineWidth = 1.4;
        ctx.setLineDash([1, 1]);
        for (const v of ROW_LINES) {
          const py = Math.round(scales.y.getPixelForValue(v)) + 0.5;
          line(ctx, a.left, py, a.right, py);
        }
        for (const v of spec.xGrid) {
          const px = Math.round(scales.x.getPixelForValue(v)) - 0.5;
          line(ctx, px, a.top, px, a.bottom);
        }
        if (spec.bottomDotted) {
          const py = Math.round(a.bottom) - 0.5;
          line(ctx, a.left, py, a.right, py);
        }
        ctx.restore();
      },
      afterDatasetsDraw(chart: any) {
        const { ctx, chartArea: a, scales } = chart;
        ctx.save();
        ctx.setLineDash([]);
        ctx.strokeStyle = spec.axisColor;
        ctx.lineWidth = 2;
        if (!spec.bottomDotted) {
          for (const [s, e] of spec.bottomSegments) {
            line(ctx, scales.x.getPixelForValue(s), a.bottom, scales.x.getPixelForValue(e), a.bottom);
          }
        }
        line(ctx, a.left, a.top, a.left, a.bottom + (spec.bottomDotted ? 0 : 1));
        ctx.lineWidth = 1.5;
        for (const t of spec.axisTicks) {
          const py = Math.round(scales.y.getPixelForValue(t)) + 0.5;
          line(ctx, a.left - 4, py, a.left, py);
        }
        for (const m of spec.markers) {
          const px = scales.x.getPixelForValue(m.x);
          ctx.strokeStyle = m.color;
          ctx.lineWidth = m.width;
          line(ctx, px, a.top, px, a.bottom + 6);
        }
        ctx.restore();
      },
    };

    const chart = new Chart(canvas, {
      type: "line",
      data: { datasets },
      options: {
        animation: false,
        responsive: false,
        events: [],
        layout: { padding: { left: PAD_L, top: PAD_T, right: padR, bottom: PAD_B } },
        plugins: { legend: { display: false }, tooltip: { enabled: false } },
        scales: {
          x: { type: "linear", display: false, min: 0, max: 640 },
          y: { type: "linear", display: false, min: spec.yMin, max: 0 },
        },
      },
      plugins: [frame],
    });
    return () => chart.destroy();
  }, [spec, padR]);

  return (
    <canvas
      ref={ref}
      width={width}
      height={height}
      style={{
        position: "absolute",
        left: spec.plot.left - PAD_L,
        top: spec.plot.top - PAD_T,
        width,
        height,
      }}
    />
  );
}

export default function App() {
  return (
    <div
      style={{
        position: "fixed",
        left: 0,
        top: 0,
        width: PAGE_W,
        height: 848,
        background: "#ffffff",
        overflow: "hidden",
      }}
    >
      {PANELS.map((p) => (
        <TracePanel key={p.name} spec={p} />
      ))}
      {PANELS.map((p) => (
        <div
          key={p.name + "-label"}
          style={{
            position: "absolute",
            left: p.labelX - 50,
            width: 100,
            top: p.labelY - 20,
            height: 40,
            lineHeight: "40px",
            textAlign: "center",
            fontFamily: '"Liberation Serif", "Times New Roman", serif',
            fontSize: 31,
            color: "#000",
          }}
        >
          {p.label}
        </div>
      ))}
    </div>
  );
}
